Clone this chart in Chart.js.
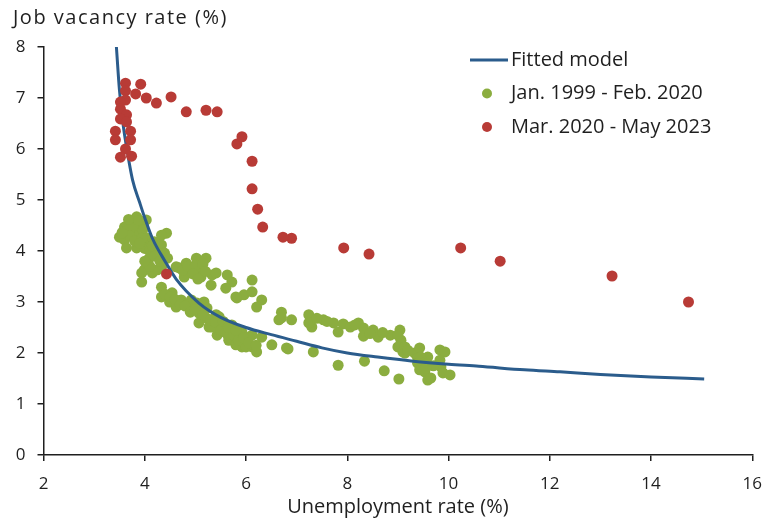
<!DOCTYPE html>
<html>
<head>
<meta charset="utf-8">
<script src="https://cdn.jsdelivr.net/npm/chart.js@4.4.0/dist/chart.umd.min.js"></script>
<style>
  html, body { margin: 0; padding: 0; background: #fff; }
  #wrap { width: 775px; height: 519px; position: relative; }
</style>
</head>
<body>
<div id="wrap"><canvas id="chartBeveridge"></canvas></div>
<script>
// Fitted model (unemployment %, vacancy %)
const fittedModel = [
  [3.44, 8.00], [3.50, 7.16], [3.57, 6.50], [3.64, 6.04], [3.76, 5.39],
  [3.90, 4.95], [4.00, 4.65], [4.15, 4.25], [4.40, 3.80], [4.62, 3.45],
  [5.07, 2.98], [5.50, 2.70], [6.00, 2.50], [6.50, 2.36], [7.00, 2.23],
  [7.50, 2.10], [8.00, 2.00], [8.60, 1.92], [9.30, 1.84], [10.00, 1.78],
  [10.60, 1.74], [11.50, 1.67], [12.20, 1.63], [13.00, 1.58], [14.00, 1.53],
  [15.05, 1.49]
];

// Jan. 1999 - Feb. 2020
const preCovid = [
  [3.84, 4.67], [4.03, 4.61], [3.70, 4.55], [3.94, 4.47], [3.60, 4.47],
  [3.56, 4.37], [3.74, 4.35], [3.90, 4.35], [3.50, 4.27], [3.60, 4.22],
  [3.96, 4.41], [4.43, 4.35], [4.33, 4.31], [4.05, 4.25], [4.05, 4.12],
  [4.19, 4.18], [4.33, 4.12], [3.64, 4.06], [3.84, 4.06], [4.19, 4.02],
  [4.25, 3.96], [4.39, 3.96], [4.45, 3.86], [4.09, 3.86], [4.03, 3.76],
  [3.99, 3.63], [3.94, 3.57], [3.94, 3.39], [4.15, 3.57], [4.25, 3.63],
  [4.35, 3.73], [4.68, 3.67], [4.82, 3.76], [5.02, 3.86], [5.21, 3.86],
  [4.92, 3.63], [5.07, 3.59], [4.78, 3.49], [5.11, 3.49], [5.33, 3.53],
  [5.31, 3.33], [4.62, 3.69], [5.41, 3.57], [5.63, 3.53], [5.72, 3.39],
  [6.12, 3.43], [5.60, 3.27], [5.82, 3.08], [5.96, 3.14], [6.12, 3.20],
  [6.31, 3.04], [6.21, 2.90], [6.70, 2.80], [6.65, 2.65], [6.90, 2.65],
  [7.24, 2.75], [7.30, 2.51], [7.53, 2.65], [5.13, 3.67], [5.80, 3.10],
  [3.65, 4.40], [3.78, 4.50], [3.88, 4.60], [3.70, 4.30], [3.80, 4.20],
  [3.95, 4.25], [4.00, 4.05], [4.10, 4.00], [3.90, 4.15], [4.15, 4.10],
  [4.20, 3.90], [4.30, 3.80], [4.10, 3.70], [4.00, 3.80], [3.55, 4.35],
  [3.68, 4.62], [4.75, 3.62], [4.85, 3.70], [5.00, 3.72], [5.15, 3.75],
  [4.95, 3.55], [5.20, 3.60], [5.05, 3.45],
  [4.33, 3.29], [4.33, 3.10], [4.54, 3.18], [4.72, 3.04], [4.49, 3.00],
  [4.62, 2.90], [4.94, 2.98], [4.74, 2.98], [4.92, 3.04], [5.03, 2.98],
  [5.17, 3.00], [5.23, 2.88], [4.88, 2.88], [5.07, 2.78], [5.21, 2.69],
  [5.41, 2.75], [5.07, 2.59], [5.27, 2.51], [5.47, 2.55], [5.43, 2.35],
  [5.66, 2.45], [5.66, 2.25], [5.86, 2.39], [5.92, 2.12], [6.12, 2.35],
  [6.12, 2.12], [6.21, 2.02], [6.31, 2.31], [6.51, 2.16], [6.80, 2.10],
  [5.07, 2.84], [5.47, 2.71], [5.33, 2.51], [5.53, 2.51], [5.72, 2.55],
  [5.66, 2.31], [5.92, 2.41], [6.06, 2.31], [5.80, 2.16], [6.00, 2.12],
  [7.33, 2.02], [4.40, 3.15], [4.50, 3.10], [4.60, 3.05], [4.70, 2.95],
  [4.80, 2.92], [4.90, 2.80], [5.00, 2.85], [5.15, 2.75], [5.30, 2.65],
  [5.40, 2.60], [5.50, 2.45], [5.60, 2.40], [5.75, 2.35], [5.85, 2.25],
  [5.95, 2.30], [6.05, 2.20], [6.20, 2.15], [5.55, 2.62], [5.65, 2.50],
  [5.80, 2.45],
  [6.70, 2.69], [7.24, 2.59], [7.73, 2.59], [7.82, 2.41], [7.92, 2.57],
  [8.06, 2.51], [8.22, 2.59], [8.32, 2.49], [8.32, 2.33], [8.51, 2.45],
  [8.61, 2.31], [8.85, 2.35], [9.04, 2.45], [9.06, 2.25], [9.00, 2.12],
  [9.14, 2.12], [9.10, 2.02], [9.33, 2.00], [9.43, 2.10], [9.39, 1.90],
  [9.59, 1.92], [9.39, 1.80], [9.43, 1.67], [9.53, 1.63], [9.59, 1.47],
  [9.83, 2.06], [9.93, 2.02], [9.83, 1.86], [9.85, 1.73], [9.89, 1.61],
  [10.03, 1.57], [9.65, 1.51], [6.83, 2.08], [7.82, 1.76], [8.34, 1.84],
  [8.73, 1.65], [9.02, 1.49], [9.14, 2.00], [9.45, 1.92], [7.40, 2.68],
  [7.60, 2.62], [8.15, 2.55], [8.45, 2.38], [8.70, 2.40], [9.00, 2.35],
  [9.20, 2.05], [9.50, 1.80], [9.70, 1.75], [9.55, 1.70]
];

// Mar. 2020 - May 2023
const postCovid = [
  [14.74, 3.00], [13.23, 3.51], [11.02, 3.80], [10.24, 4.06], [8.43, 3.94],
  [7.93, 4.06], [6.90, 4.25], [6.73, 4.27], [6.33, 4.47], [6.23, 4.82],
  [6.12, 5.22], [6.12, 5.76], [5.82, 6.10], [5.92, 6.24], [5.43, 6.73],
  [5.21, 6.76], [4.82, 6.73], [4.52, 7.02], [4.23, 6.90], [4.03, 7.00],
  [3.82, 7.08], [3.92, 7.27], [3.62, 7.29], [3.62, 7.14], [3.62, 6.96],
  [3.52, 6.92], [3.52, 6.78], [3.64, 6.67], [3.52, 6.59], [3.64, 6.53],
  [3.42, 6.35], [3.72, 6.35], [3.42, 6.18], [3.72, 6.18], [3.62, 6.00],
  [3.52, 5.84], [3.74, 5.86], [4.43, 3.55]
];

const xMin = 2, xMax = 16, xStep = 2;
const yMin = 0, yMax = 8, yStep = 1;

const FONT = '"Open Sans", Lato, sans-serif';
const INK = '#1f1f1f';

// leyenda y título del eje Y dibujados a mano
const extras = {
  id: 'extras',
  afterDraw(chart) {
    const ctx = chart.ctx;
    ctx.save();
    ctx.fillStyle = INK;
    ctx.textBaseline = 'middle';
    ctx.textAlign = 'left';
    ctx.font = '20px ' + FONT;
    ctx.letterSpacing = '1.5px';
    ctx.fillText('Job vacancy rate (%)', 13, 18);
    ctx.letterSpacing = '0px';

    const ds = chart.data.datasets;
    const y0 = 60, gap = 33.5;
    ctx.font = '20px ' + FONT;
    ds.forEach((d, i) => {
      const y = y0 + i * gap;
      if (i === 0) {
        ctx.strokeStyle = d.borderColor;
        ctx.lineWidth = 3;
        ctx.beginPath();
        ctx.moveTo(470, y);
        ctx.lineTo(508, y);
        ctx.stroke();
      } else {
        ctx.fillStyle = d.backgroundColor;
        ctx.beginPath();
        ctx.arc(487, y, 5, 0, Math.PI * 2);
        ctx.fill();
      }
      ctx.fillStyle = INK;
      ctx.fillText(d.label, 511, y);
    });
    ctx.restore();
  }
};

new Chart(document.getElementById('chartBeveridge'), {
  type: 'scatter',
  data: {
    datasets: [
      {
        label: 'Fitted model',
        data: fittedModel.map(p => ({ x: p[0], y: p[1] })),
        showLine: true,
        borderColor: '#2b5c8c',
        backgroundColor: '#2b5c8c',
        borderWidth: 3,
        pointRadius: 0,
        cubicInterpolationMode: 'monotone',
        order: 2
      },
      {
        label: 'Jan. 1999 - Feb. 2020',
        data: preCovid.map(p => ({ x: p[0], y: p[1] })),
        backgroundColor: '#8bad3f',
        borderWidth: 0,
        pointRadius: 5.5,
        order: 3
      },
      {
        label: 'Mar. 2020 - May 2023',
        data: postCovid.map(p => ({ x: p[0], y: p[1] })),
        backgroundColor: '#b83b36',
        borderWidth: 0,
        pointRadius: 5.5,
        order: 1
      }
    ]
  },
  options: {
    responsive: true,
    maintainAspectRatio: false,
    animation: false,
    layout: { padding: { top: 47, right: 21, left: 0, bottom: 0 } },
    plugins: { legend: { display: false }, tooltip: { enabled: false } },
    scales: {
      x: {
        type: 'linear',
        min: xMin, max: xMax,
        afterFit: s => { s.height = 64; },
        border: { color: INK, width: 1.5 },
        grid: { drawOnChartArea: false, drawTicks: true, tickLength: 6, color: INK, lineWidth: 1.5 },
        ticks: { stepSize: xStep, color: INK, padding: 13, font: { family: FONT, size: 17 } },
        title: { display: true, text: 'Unemployment rate (%)', color: INK, padding: 0, font: { family: FONT, size: 20 } }
      },
      y: {
        type: 'linear',
        min: yMin, max: yMax,
        afterFit: s => { s.width = 43.5; },
        border: { color: INK, width: 1.5 },
        grid: { drawOnChartArea: false, drawTicks: true, tickLength: 6, color: INK, lineWidth: 1.5 },
        ticks: { stepSize: yStep, color: INK, padding: 12, font: { family: FONT, size: 17 } }
      }
    }
  },
  plugins: [extras]
});
</script>
</body>
</html>
